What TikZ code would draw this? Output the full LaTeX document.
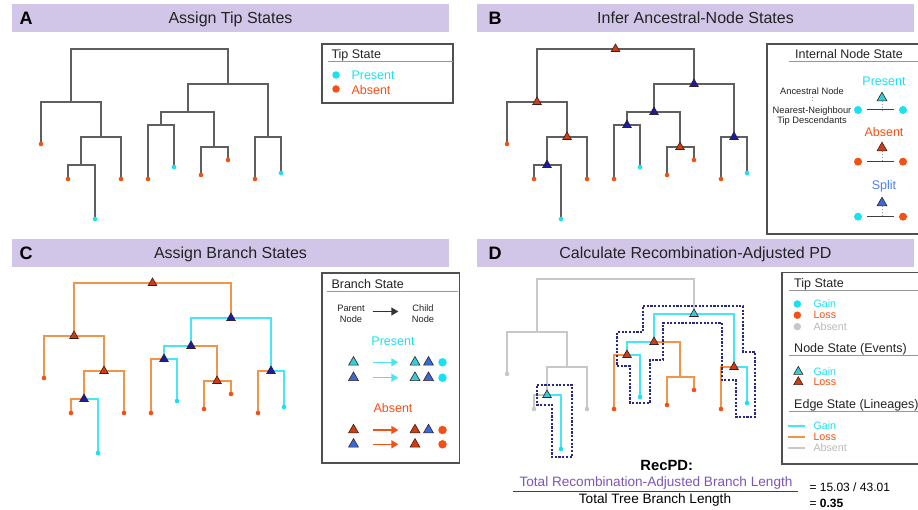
\documentclass[tikz,border=0pt]{standalone}
\usepackage{fontspec}
\setmainfont{Liberation Sans}
\usetikzlibrary{calc,shapes.geometric,arrows.meta}

\definecolor{bandlav}{RGB}{210,198,232}
\definecolor{titleink}{RGB}{35,35,35}
\definecolor{treegrey}{RGB}{95,95,95}
\definecolor{absgrey}{RGB}{200,200,200}
\definecolor{tipcyan}{RGB}{25,225,240}
\definecolor{tiporange}{RGB}{245,80,20}
\definecolor{brcyan}{RGB}{70,230,245}
\definecolor{brorange}{RGB}{240,150,75}
\definecolor{trired}{RGB}{205,60,20}
\definecolor{triblue}{RGB}{20,30,170}
\definecolor{keyblue}{RGB}{55,105,215}
\definecolor{tricyan}{RGB}{50,205,215}
\definecolor{splitblue}{RGB}{70,130,245}
\definecolor{boxgrey}{RGB}{80,80,80}
\definecolor{rulegrey}{RGB}{150,150,150}
\definecolor{outlinenavy}{RGB}{40,40,135}
\definecolor{ratiopurple}{RGB}{125,85,185}
\definecolor{absenttext}{RGB}{185,185,185}

\begin{document}
\begin{tikzpicture}[x=1pt,y=-1pt,
    paneltag/.style={anchor=base west, font=\fontsize{18}{20}\selectfont\bfseries},
    paneltitle/.style={anchor=base, text=titleink, font=\fontsize{16}{18}\selectfont},
    branch/.style={line width=1.4pt, line cap=rect},
    gainbox/.style={draw=outlinenavy, line width=2.5pt, dash pattern=on 2.2pt off 1.5pt},
    tipdot/.style={circle, inner sep=0pt, minimum size=4.6pt},
    tri/.style={regular polygon, regular polygon sides=3, inner sep=0pt, minimum size=10pt, draw={rgb,255:red,60;green,30;blue,30}, line width=0.6pt},
    keytri/.style={tri, minimum size=11.5pt},
    keydot/.style={circle, inner sep=0pt, minimum size=7.5pt},
    keybox/.style={draw=boxgrey, line width=1.2pt},
    keyrule/.style={draw=rulegrey, line width=1pt},
    keyhead/.style={anchor=base west, text=titleink, font=\fontsize{12.5}{14}\selectfont},
    keylabel/.style={anchor=base, font=\fontsize{12.5}{14}\selectfont},
    keysmall/.style={anchor=base west, font=\fontsize{10.7}{12}\selectfont},
    smalltext/.style={anchor=base, text=titleink, font=\fontsize{9.3}{10}\selectfont},
    keyarrow/.style={-{Triangle[length=7pt,width=8pt]}, line width=1.5pt},
    ratiotext/.style={anchor=base, font=\fontsize{13.6}{15}\selectfont}]
\useasboundingbox (0,0) rectangle (918,510);

% headers
\foreach \x/\y/\tx/\tag/\title in {12/4/16/A/Assign Tip States, 477/4/485/B/Infer Ancestral-Node States, 12/239/16/C/Assign Branch States, 477/239/485/D/Calculate Recombination-Adjusted PD} {
  \fill[bandlav] (\x,\y) rectangle ++(437,28);
  \node[paneltag] (tag\tag) at (\tx,\y+21) {\tag};
  \node[paneltitle] (title\tag) at (\x+218.5,\y+20) {\title};
}

% tree nodes, one copy per panel
\foreach \p/\dx/\dy in {a/0/0, b/466/0, c/3/234, d/466/230}
  \foreach \n/\x/\y in {r/149.5/49, n1/71/102, n2/101/137, n3/81/165, n4/228/84, n5/188/112, n6/161/125, n7/214/147, n8/268/137, t1/41/144, t2/68/179, t3/95/219, t4/121/179, t5/148/179, t6/174/167, t7/201/175, t8/228/160, t9/255/179, t10/281/173}
    \coordinate (\p\n) at (\x+\dx,\y+\dy);

% branches
\foreach \p in {a,b}
  \foreach \u/\v in {r/n1, r/n4, n1/t1, n1/n2, n2/n3, n2/t4, n3/t2, n3/t3, n4/n5, n4/n8, n5/n6, n5/n7, n6/t5, n6/t6, n7/t7, n7/t8, n8/t9, n8/t10}
    \draw[branch, treegrey, line width=1.3pt] (\p\u) -| (\p\v);
\foreach \u/\v/\c in {r/n1/brorange, r/n4/brorange, n1/t1/brorange, n1/n2/brorange, n2/n3/brorange, n2/t4/brorange, n3/t2/brorange, n3/t3/brcyan, n4/n5/brcyan, n4/n8/brcyan, n5/n6/brcyan, n5/n7/brorange, n6/t5/brorange, n6/t6/brcyan, n7/t7/brorange, n7/t8/brorange, n8/t9/brorange, n8/t10/brcyan}
  \draw[branch, \c] (c\u) -| (c\v);
\foreach \u/\v/\c in {r/n1/absgrey, r/n4/absgrey, n1/t1/absgrey, n1/n2/absgrey, n2/n3/absgrey, n2/t4/absgrey, n3/t2/absgrey, n3/t3/brcyan, n4/n5/brcyan, n4/n8/brcyan, n5/n6/brcyan, n5/n7/brorange, n6/t5/brorange, n6/t6/brcyan, n7/t7/brorange, n7/t8/brorange, n8/t9/brorange, n8/t10/brcyan}
  \draw[branch, \c] (d\u) -| (d\v);

% gain lineages in D
\draw[gainbox] (537,385) -- (572,385) -- (572,457) -- (552,457) -- (552,405) -- (537,405) -- cycle;
\draw[gainbox] (643,306) -- (743,306) -- (743,352) -- (755,352) -- (755,417) -- (736,417) -- (736,380) -- (722,380) -- (722,323) -- (663,323) -- (663,360) -- (650,360) -- (650,403) -- (630,403) -- (630,366) -- (617,366) -- (617,332) -- (643,332) -- cycle;

% ancestral states
\foreach \p in {b,c}
  \foreach \n/\c in {r/trired, n1/trired, n2/trired, n3/triblue, n4/triblue, n5/triblue, n6/triblue, n7/trired, n8/triblue}
    \node[tri, fill=\c] (\p\n-tri) at (\p\n) {};
\foreach \n/\c in {n3/tricyan, n4/tricyan, n5/trired, n6/trired, n8/trired}
  \node[tri, fill=\c] (d\n-tri) at (d\n) {};

% tips
\foreach \p in {a,b,c}
  \foreach \t/\c in {t1/tiporange, t2/tiporange, t3/tipcyan, t4/tiporange, t5/tiporange, t6/tipcyan, t7/tiporange, t8/tiporange, t9/tiporange, t10/tipcyan}
    \node[tipdot, fill=\c] (\p\t-dot) at (\p\t) {};
\foreach \t/\c in {t1/absgrey, t2/absgrey, t3/tipcyan, t4/absgrey, t5/tiporange, t6/tipcyan, t7/tiporange, t8/tiporange, t9/tiporange, t10/tipcyan}
  \node[tipdot, fill=\c] (d\t-dot) at (d\t) {};

% key A
\draw[keybox] (322,44) rectangle (453,103);
\node[keyhead] (keyA) at (328,59) {Tip State};
\draw[keyrule] (328,62) -- (453,62);
\node[keydot, fill=tipcyan] (presdotA) at (336,75) {};
\node[keyhead, text=tipcyan] (presA) at (348,80) {Present};
\node[keydot, fill=tiporange] (absdotA) at (336,89) {};
\node[keyhead, text=tiporange] (absA) at (348,94.5) {Absent};

% key B
\draw[keybox] (767,44) rectangle (925,234);
\node[keylabel, text=titleink] (keyB) at (849,59) {Internal Node State};
\draw[keyrule] (789,62) -- (918,62);
\node[smalltext] (ancB) at (812,95) {Ancestral Node};
\draw[rulegrey, dotted, line width=0.8pt] (812,97.5) -- (812,103);
\node[smalltext] (nnB) at (812,113.3) {Nearest-Neighbour};
\node[smalltext] (tdB) at (812,124) {Tip Descendants};
\foreach \s/\lab/\lc/\tc/\dl/\dr/\ly/\ty/\by in {pres/Present/tipcyan/tricyan/tipcyan/tipcyan/86/98/110, abs/Absent/tiporange/trired/tiporange/tiporange/136.7/148/161.7, split/Split/splitblue/keyblue/tipcyan/tiporange/189.3/203/216.7} {
  \node[keylabel, text=\lc] (\s lab) at (884,\ly) {\lab};
  \node[keytri, fill=\tc] (\s tri) at (882,\ty) {};
  \node[keydot, minimum size=8pt, fill=\dl] (\s left) at (858,\by) {};
  \node[keydot, minimum size=8pt, fill=\dr] (\s right) at (903,\by) {};
  \draw[black!75, line width=1pt] ($(\s left)+(9,0)$) -- ($(\s right)+(-9,0)$);
  \draw[rulegrey, dotted, line width=0.8pt] (\s tri.south) -- (882,\by);
}

% key C
\draw[keybox] (322,273) rectangle (459.5,463);
\node[keyhead] (keyC) at (328,288.5) {Branch State};
\draw[keyrule] (327,292) -- (458,292);
\node[smalltext] (parentC) at (351,311.7) {Parent};
\node[smalltext] (parentC2) at (351,322.7) {Node};
\node[smalltext] (childC) at (423,311.7) {Child};
\node[smalltext] (childC2) at (423,322.7) {Node};
\coordinate (arrA) at (372.7,311.5);
\coordinate (arrB) at (398.3,311.5);
\draw[keyarrow, black!80] (arrA) -- (arrB);
\node[keylabel, text=tipcyan] (presC) at (393,346) {Present};
\node[keylabel, text=tiporange] (absC) at (393,412) {Absent};
\foreach \ry/\pc/\ac/\ca/\cd in {362.3/tricyan/brcyan/tricyan/tipcyan, 377.7/keyblue/brcyan/tricyan/tipcyan, 430/trired/tiporange/trired/tiporange, 444.3/keyblue/tiporange/trired/tiporange} {
  \node[keytri, fill=\pc] (par\ry) at (353.5,\ry) {};
  \draw[keyarrow, \ac] (372.7,\ry) -- (398.3,\ry);
  \node[keytri, fill=\ca] (ch\ry) at (415,\ry) {};
  \node[keydot, minimum size=8.5pt, fill=\cd] (chd\ry) at (442.5,\ry) {};
}
\foreach \ry in {362.3, 377.7, 430}
  \node[keytri, fill=keyblue] (chb\ry) at (428.5,\ry) {};

% key D
\draw[keybox] (782,272.5) rectangle (925,464);
\node[keyhead] (tipkeyD) at (790.7,287.7) {Tip State};
\draw[keyrule] (789,290.5) -- (918,290.5);
\foreach \s/\lab/\dc/\tc/\dy/\ly in {gain/Gain/tipcyan/tipcyan/304/307.7, loss/Loss/tiporange/tiporange/315.2/319, absent/Absent/absgrey/absenttext/326.7/330.7} {
  \node[keydot, minimum size=7.5pt, fill=\dc] (\s dotD) at (797.3,\dy) {};
  \node[keysmall, text=\tc] (\s tipD) at (810,\ly) {\lab};
}
\node[keyhead] (nodekeyD) at (790.7,352.5) {Node State (Events)};
\draw[keyrule] (789,356) -- (918,356);
\node[tri, minimum size=10.5pt, fill=tricyan] (gaintriD) at (798.3,371.7) {};
\node[keysmall, text=tipcyan] (gainnodeD) at (810,375) {Gain};
\node[tri, minimum size=10.5pt, fill=trired] (losstriD) at (798.3,382) {};
\node[keysmall, text=tiporange] (lossnodeD) at (810,385.7) {Loss};
\node[keyhead] (edgekeyD) at (790.7,408.3) {Edge State (Lineages)};
\draw[keyrule] (789,411.7) -- (918,411.7);
\foreach \s/\lab/\lc/\tc/\ey/\ly in {gain/Gain/brcyan/tipcyan/425.7/429, loss/Loss/brorange/tiporange/436.7/440.7, absent/Absent/absgrey/absenttext/447.7/451.7} {
  \draw[\lc, line width=1.6pt] (788.3,\ey) -- (805,\ey);
  \node[keysmall, text=\tc] (\s edgeD) at (810,\ly) {\lab};
}

% RecPD ratio
\node[anchor=base, font=\fontsize{14.8}{16}\selectfont\bfseries] (recpd) at (666.7,470.7) {RecPD:};
\node[ratiotext, text=ratiopurple] (numer) at (656,486.7) {Total Recombination-Adjusted Branch Length};
\draw[black!75, line width=1pt] (512.7,491) -- (797.7,491);
\node[ratiotext] (denom) at (655,503.3) {Total Tree Branch Length};
\node[anchor=base west, font=\fontsize{12}{14}\selectfont] (vals) at (806,491.7) {= 15.03 / 43.01};
\node[anchor=base west, font=\fontsize{12}{14}\selectfont] (result) at (806,507.3) {= \textbf{0.35}};
\end{tikzpicture}
\end{document}
